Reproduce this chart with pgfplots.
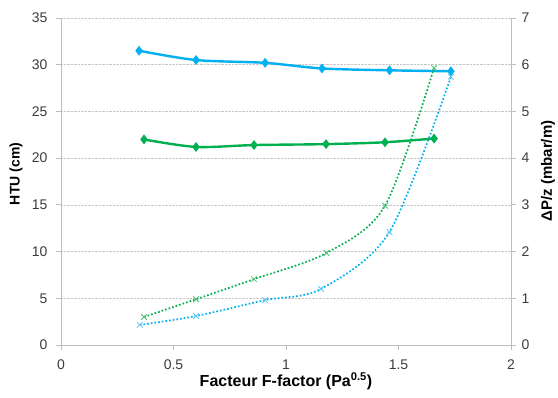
\documentclass[border=0pt]{standalone}
\usepackage{pgfplots}
\pgfplotsset{compat=1.18}
\usepackage{fontspec}
\setmainfont{Liberation Sans}
\definecolor{cblue}{RGB}{0,176,240}
\definecolor{cgreen}{RGB}{0,176,80}
\definecolor{cbluel}{RGB}{90,200,240}
\definecolor{cgreenl}{RGB}{80,190,120}
\definecolor{cgrid}{RGB}{200,200,200}
\definecolor{caxis}{RGB}{190,190,190}
\definecolor{ctick}{RGB}{60,60,60}
\begin{document}
\begin{tikzpicture}
\useasboundingbox (-61pt,-53pt) rectangle (497pt,345pt);
\pgfplotsset{
  base/.style={
    scale only axis, width=450pt, height=327pt,
    at={(0pt,0pt)}, anchor=south west,
    xmin=0, xmax=2,
    /pgf/number format/assume math mode=true,
    ticklabel style={font=\fontsize{14}{16}\selectfont, text=ctick},
    axis line style={caxis, line width=0.9pt, -},
    tick style={caxis, line width=0.9pt},
    tick align=outside, major tick length=5pt,
    label style={text=black},
  }
}
\begin{axis}[base,
  ymin=0, ymax=35,
  xtick={0,0.5,1,1.5,2}, ytick={0,5,...,35},
  xticklabels={0,0.5,1,1.5,2},
  xticklabel style={yshift=-6pt},
  yticklabel style={xshift=-5pt},
  axis x line*=bottom, axis y line*=left,
  ymajorgrids, grid style={cgrid, densely dotted, line width=0.7pt},
  xlabel={Facteur F-factor (Pa\textsuperscript{0.5})},
  ylabel={HTU (cm)},
  xlabel style={font=\bfseries\fontsize{16}{18}\selectfont, at={(axis description cs:0.5,0)}, anchor=center, yshift=-36pt},
  ylabel style={font=\bfseries\fontsize{14}{16}\selectfont, at={(axis description cs:-0.1,0.523)}, anchor=center},
]
\addplot[cblue, line width=2.4pt, smooth, mark=diamond*, mark size=3pt]
  coordinates {(0.347,31.5) (0.60,30.5) (0.907,30.2) (1.16,29.6) (1.46,29.4) (1.733,29.3)};
\addplot[cgreen, line width=2.4pt, smooth, mark=diamond*, mark size=3pt]
  coordinates {(0.369,22.0) (0.60,21.2) (0.858,21.4) (1.178,21.5) (1.44,21.7) (1.658,22.1)};
\end{axis}
\begin{axis}[base,
  ymin=0, ymax=7,
  ytick={0,1,...,7},
  yticklabel style={xshift=2pt},
  axis x line=none, axis y line*=right,
  ylabel={ΔP/z (mbar/m)},
  ylabel style={font=\bfseries\fontsize{15}{17}\selectfont, at={(axis description cs:1.082,0.532)}, anchor=center},
]
\addplot[cgreen, line width=1.7pt, dotted, smooth, mark=x, mark size=4pt, mark options={solid, cgreenl, line width=0.8pt}]
  coordinates {(0.369,0.60) (0.60,0.98) (0.858,1.41) (1.18,1.97) (1.44,2.98) (1.658,5.93)};
\addplot[cblue, line width=1.7pt, dotted, smooth, mark=x, mark size=4pt, mark options={solid, cbluel, line width=0.8pt}]
  coordinates {(0.35,0.43) (0.60,0.62) (0.907,0.96) (1.155,1.20) (1.46,2.42) (1.733,5.74)};
\end{axis}
\end{tikzpicture}
\end{document}
